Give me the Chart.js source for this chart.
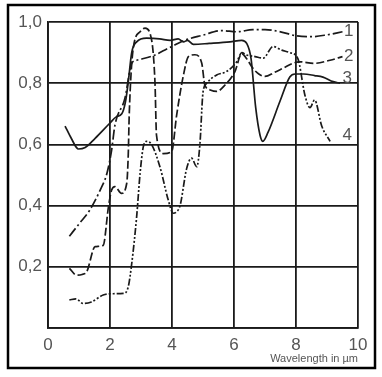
<!DOCTYPE html>
<html>
<head>
<meta charset="utf-8">
<script src="https://cdn.jsdelivr.net/npm/chart.js@4.4.1/dist/chart.umd.min.js"></script>
<style>
    html, body {margin: 0; padding: 0; background: #fff;}
    #wrap {width: 382px; height: 377px;}
</style>
</head>
<body>
<div id="wrap"><canvas id="chart" width="382" height="377"></canvas></div>
<script>
// curve 1 - dash dot
const curve1X = [0.69, 1.0, 1.35, 1.68, 1.9, 2.05, 2.16, 2.48, 2.7, 2.86, 3.4, 3.7, 4.0, 4.4, 5.0, 5.6, 6.1, 6.6, 7.0, 7.5, 8.0, 8.5, 9.0, 9.5];
const curve1Y = [0.30, 0.34, 0.386, 0.45, 0.505, 0.58, 0.663, 0.75, 0.865, 0.875, 0.89, 0.905, 0.92, 0.94, 0.957, 0.972, 0.968, 0.975, 0.975, 0.968, 0.955, 0.952, 0.958, 0.968];

// curve 2 - dashed
const curve2X = [0.69, 0.92, 1.1, 1.25, 1.52, 1.78, 1.95, 2.05, 2.16, 2.37, 2.54, 2.59, 2.62, 2.75, 2.97, 3.13, 3.29, 3.45, 3.5, 3.72, 3.99, 4.15, 4.37, 4.53, 4.74, 4.96, 5.06, 5.23, 5.44, 5.71, 6.03, 6.25, 6.41, 6.6, 6.8, 7.0, 7.3, 7.6, 7.9, 8.1, 8.6, 9.1, 9.5];
const curve2Y = [0.195, 0.173, 0.175, 0.184, 0.266, 0.27, 0.396, 0.45, 0.462, 0.44, 0.473, 0.57, 0.696, 0.914, 0.968, 0.98, 0.963, 0.805, 0.63, 0.57, 0.577, 0.696, 0.827, 0.887, 0.893, 0.865, 0.794, 0.778, 0.773, 0.794, 0.838, 0.897, 0.88, 0.85, 0.83, 0.822, 0.835, 0.85, 0.865, 0.87, 0.865, 0.875, 0.887];

// curve 3 - solid
const curve3X = [0.55, 0.75, 0.98, 1.2, 1.52, 2.0, 2.2, 2.38, 2.5, 2.59, 2.7, 2.86, 3.18, 3.6, 3.94, 4.2, 4.37, 4.5, 4.69, 5.2, 5.87, 6.25, 6.41, 6.55, 6.7, 6.84, 6.93, 7.1, 7.48, 7.8, 7.97, 8.24, 8.6, 8.87, 9.2, 9.42];
const curve3Y = [0.66, 0.62, 0.585, 0.59, 0.62, 0.67, 0.69, 0.70, 0.74, 0.805, 0.90, 0.935, 0.947, 0.945, 0.94, 0.945, 0.935, 0.94, 0.927, 0.93, 0.935, 0.94, 0.93, 0.88, 0.72, 0.63, 0.61, 0.64, 0.74, 0.82, 0.83, 0.83, 0.825, 0.82, 0.805, 0.80];

// curve 4 - dash dot dot
const curve4X = [0.69, 0.9, 1.14, 1.4, 1.78, 2.1, 2.43, 2.59, 2.7, 2.86, 2.97, 3.07, 3.18, 3.34, 3.61, 3.88, 4.04, 4.15, 4.26, 4.47, 4.63, 4.8, 4.9, 5.0, 5.12, 5.44, 5.76, 6.09, 6.25, 6.41, 6.68, 6.94, 7.26, 7.54, 7.8, 8.06, 8.29, 8.45, 8.6, 8.83, 9.1];
const curve4Y = [0.092, 0.095, 0.08, 0.085, 0.108, 0.112, 0.113, 0.135, 0.21, 0.364, 0.505, 0.59, 0.61, 0.60, 0.527, 0.418, 0.375, 0.38, 0.40, 0.52, 0.555, 0.527, 0.6, 0.77, 0.80, 0.827, 0.838, 0.87, 0.90, 0.892, 0.887, 0.882, 0.92, 0.908, 0.9, 0.88, 0.76, 0.72, 0.745, 0.66, 0.61];

const curveNames = ['1', '2', '3', '4'];
const curveDashes = [[10, 3, 2, 3], [8, 3], [], [7, 2, 2, 2, 2, 2]];

// where the curve numbers sit (wavelength, value)
const nameX = [9.7, 9.7, 9.65, 9.65];
const nameY = [0.97, 0.887, 0.815, 0.63];

const xTicks = [0, 2, 4, 6, 8, 10];
const yTicks = [0, 0.2, 0.4, 0.6, 0.8, 1.0];

const ink = '#1a1a1a';
const grey = '#555';
const fontFamily = '"Liberation Sans", Arial, sans-serif';

function points(xs, ys) {
    return xs.map((x, i) => ({x: x, y: ys[i]}));
}

const allX = [curve1X, curve2X, curve3X, curve4X];
const allY = [curve1Y, curve2Y, curve3Y, curve4Y];

const datasets = allX.map((xs, i) => ({
    label: curveNames[i],
    data: points(xs, allY[i]),
    borderColor: ink,
    borderWidth: 1.7,
    borderDash: curveDashes[i],
    pointRadius: 0,
    showLine: true,
    fill: false,
    cubicInterpolationMode: 'monotone',
}));

const frame = {
    id: 'frame',
    afterDraw(chart) {
        const ctx = chart.ctx;
        ctx.save();
        ctx.strokeStyle = '#000';
        ctx.lineWidth = 2.5;
        ctx.strokeRect(8, 5, 367, 363);

        ctx.fillStyle = grey;
        ctx.font = '17px ' + fontFamily;
        ctx.textAlign = 'center';
        ctx.textBaseline = 'middle';
        curveNames.forEach((n, i) => {
            ctx.fillText(n, chart.scales.x.getPixelForValue(nameX[i]), chart.scales.y.getPixelForValue(nameY[i]));
        });
        ctx.restore();
    }
};

new Chart(document.getElementById('chart').getContext('2d'), {
    type: 'scatter',
    data: {datasets: datasets},
    plugins: [frame],
    options: {
        responsive: false,
        animation: false,
        layout: {padding: {left: 0, top: 22, right: 24, bottom: 0}},
        plugins: {legend: {display: false}, tooltip: {enabled: false}},
        scales: {
            x: {
                type: 'linear',
                min: 0,
                max: 10,
                afterBuildTicks: (scale) => { scale.ticks = xTicks.map(v => ({value: v})); },
                afterFit: (scale) => { scale.height = 49; },
                grid: {color: ink, lineWidth: 1.8, drawTicks: false},
                border: {color: ink, width: 1.8},
                ticks: {
                    color: grey,
                    padding: 7,
                    maxRotation: 0,
                    font: {family: fontFamily, size: 17},
                },
                title: {
                    display: true,
                    text: 'Wavelength in µm',
                    align: 'end',
                    color: grey,
                    padding: {top: 0, bottom: 11},
                    font: {family: fontFamily, size: 11},
                },
            },
            y: {
                type: 'linear',
                min: 0,
                max: 1,
                afterBuildTicks: (scale) => { scale.ticks = yTicks.map(v => ({value: v})); },
                afterFit: (scale) => { scale.width = 48; },
                grid: {color: ink, lineWidth: 1.8, drawTicks: false},
                border: {color: ink, width: 1.8},
                ticks: {
                    color: grey,
                    padding: 6,
                    font: {family: fontFamily, size: 17},
                    callback: (v) => v === 0 ? '' : v.toFixed(1).replace('.', ','),
                },
            },
        },
    },
});
</script>
</body>
</html>
